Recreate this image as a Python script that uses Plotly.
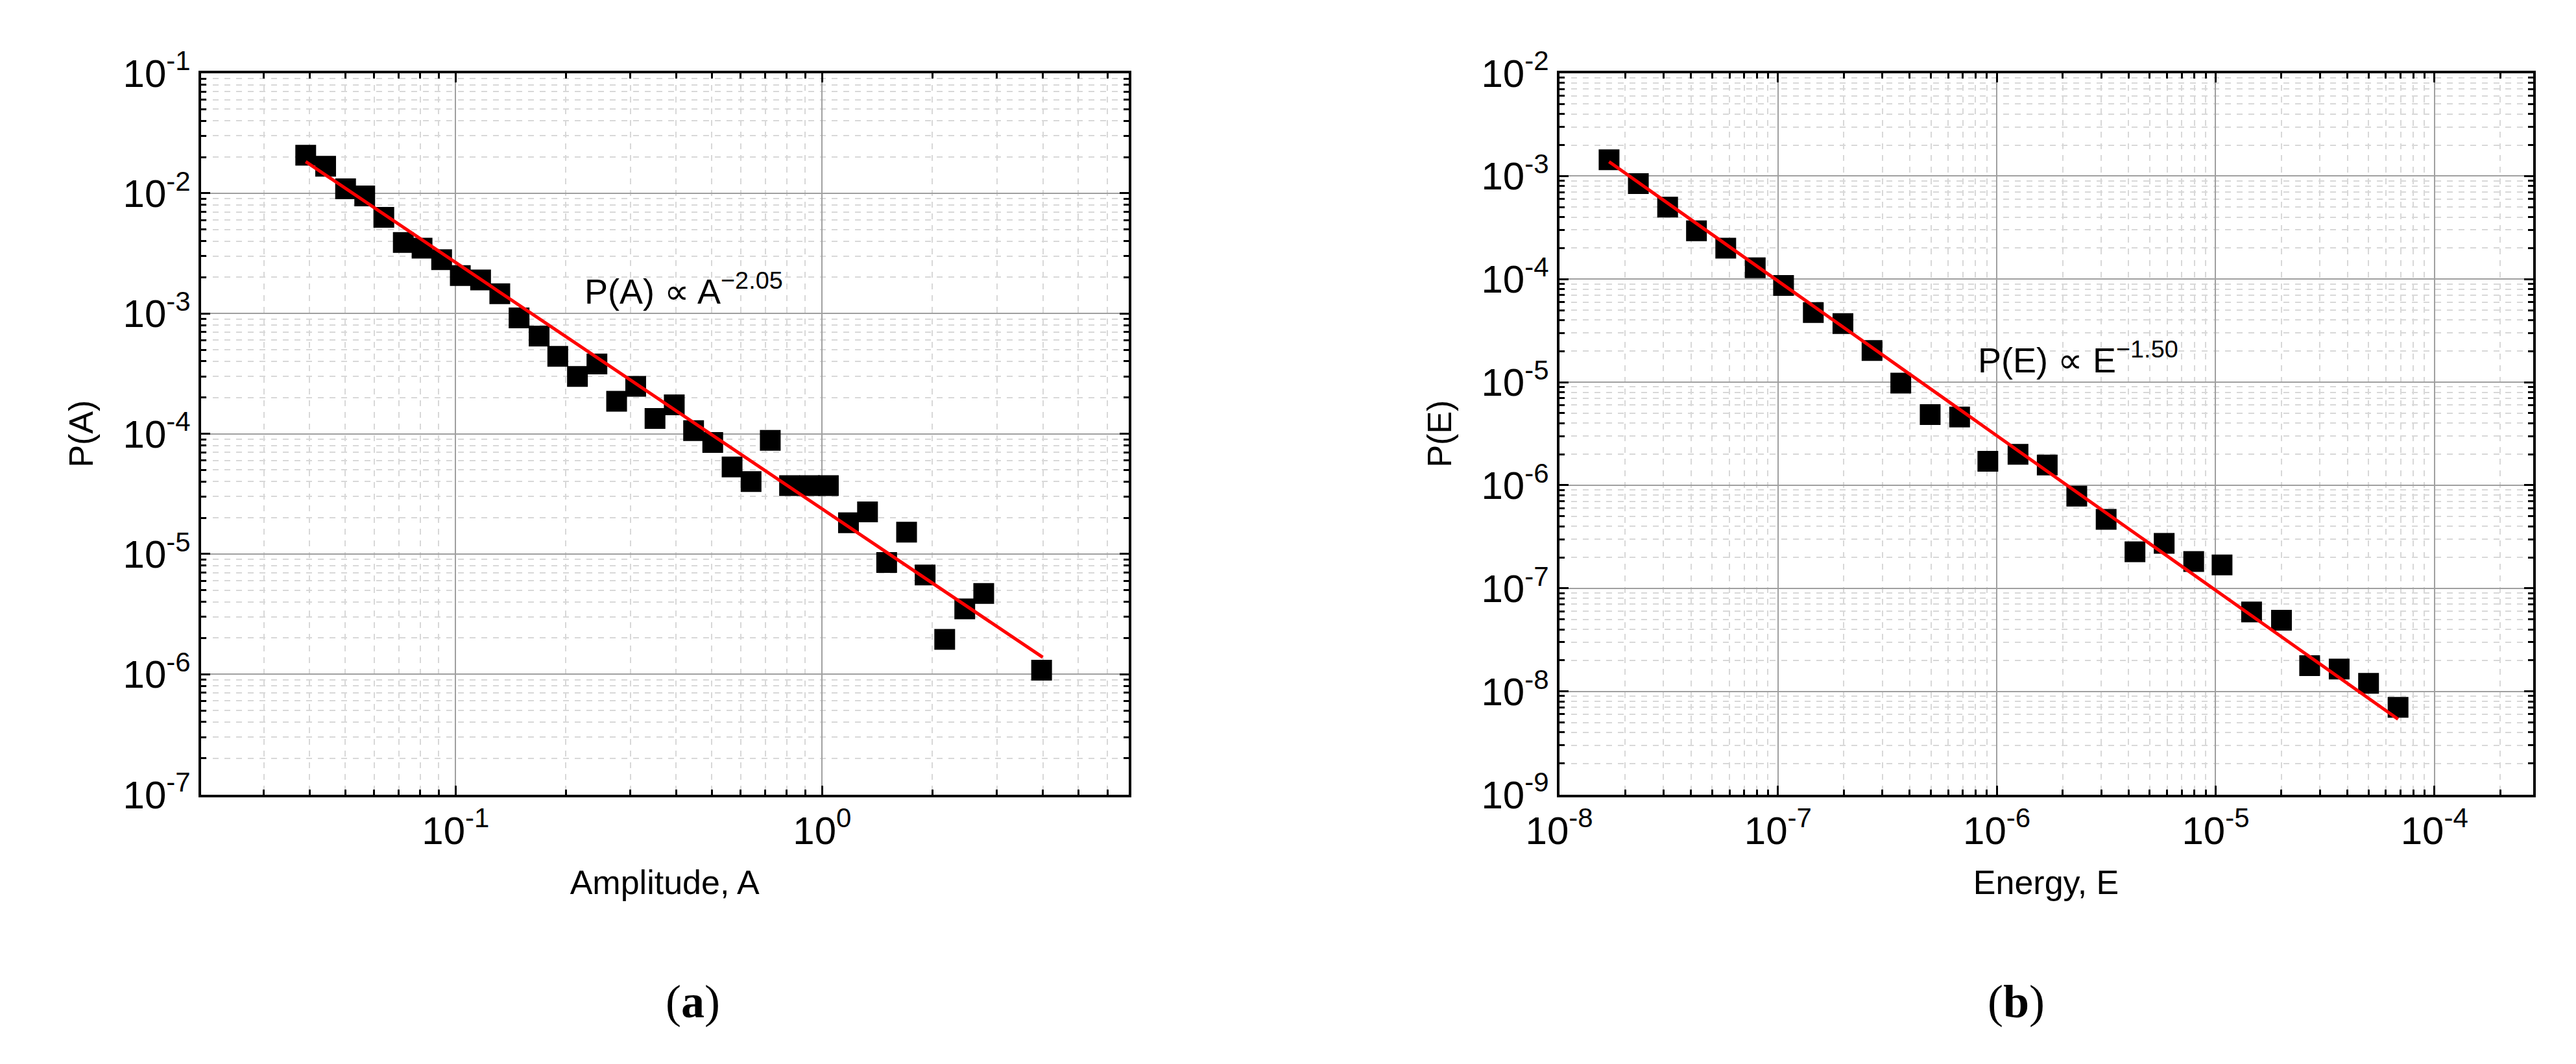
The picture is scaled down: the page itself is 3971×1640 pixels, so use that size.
import plotly.graph_objects as go
import numpy as np

amp = [0.039,0.0442,0.0501,0.0565,0.0637,0.072,0.081,0.0916,0.103,0.117,0.132,0.149,0.169,0.19,0.215,0.243,0.275,0.31,0.35,0.395,0.446,0.503,0.568,0.64,0.722,0.815,0.925,1.04,1.18,1.33,1.5,1.7,1.91,2.16,2.45,2.76,3.97]
p_amp = [0.0207,0.0168,0.0109,0.0095,0.0063,0.0039,0.0035,0.0028,0.00207,0.0019,0.00146,0.00092,0.00065,0.00044,0.0003,0.00038,0.000186,0.000248,0.000134,0.000174,0.000106,8.45e-5,5.3e-5,4.0e-5,8.8e-5,3.7e-5,3.7e-5,3.7e-5,1.82e-5,2.24e-5,8.5e-6,1.52e-5,6.7e-6,1.95e-6,3.5e-6,4.7e-6,1.08e-6]
energy = [1.69e-8,2.3e-8,3.13e-8,4.24e-8,5.77e-8,7.87e-8,1.06e-7,1.45e-7,1.98e-7,2.69e-7,3.64e-7,4.96e-7,6.76e-7,9.1e-7,1.25e-6,1.7e-6,2.32e-6,3.16e-6,4.28e-6,5.82e-6,7.94e-6,1.07e-5,1.46e-5,2.0e-5,2.69e-5,3.67e-5,5.0e-5,6.82e-5]
p_energy = [1.44e-3,8.45e-4,5.0e-4,2.94e-4,2.0e-4,1.29e-4,8.7e-5,4.75e-5,3.7e-5,2.03e-5,9.8e-6,4.85e-6,4.6e-6,1.71e-6,2.0e-6,1.57e-6,7.85e-7,4.67e-7,2.26e-7,2.73e-7,1.82e-7,1.69e-7,5.9e-8,4.9e-8,1.78e-8,1.65e-8,1.2e-8,7.0e-9]
fit_a = (2.37e-5, -2.05, 0.039, 4.0)
fit_e = (3.03e-15, -1.50, 1.69e-8, 6.82e-5)
xa_exp = [-1, 0]
ya_exp = list(range(-7, 0))
xe_exp = list(range(-8, -3))
ye_exp = list(range(-9, -1))

FONT = "Liberation Sans"
fig = go.Figure()

def add_panel(xs, ys, fit, xa, ya):
    C, k, x0, x1 = fit
    fx = np.array([x0, x1])
    fig.add_trace(go.Scatter(x=xs, y=ys, mode="markers", xaxis=xa, yaxis=ya,
                             marker=dict(symbol="square", size=32, color="black"), showlegend=False))
    fig.add_trace(go.Scatter(x=fx, y=C * fx ** k, mode="lines", xaxis=xa, yaxis=ya,
                             line=dict(color="red", width=5), showlegend=False))

add_panel(amp, p_amp, fit_a, "x", "y")
add_panel(energy, p_energy, fit_e, "x2", "y2")

def ax(dom, rng, exps, title, anchor):
    return dict(domain=dom, type="log", range=rng, tickvals=[10.0**e for e in exps],
                ticktext=["10<sup>%d</sup>" % e for e in exps],
                showline=True, linecolor="black", linewidth=4, mirror="ticks",
                ticks="inside", ticklen=14, tickwidth=3, tickcolor="black",
                showgrid=True, gridcolor="#a0a0a0", gridwidth=2, zeroline=False,
                minor=dict(dtick="D1", showgrid=True, gridcolor="#d8d8d8", griddash="dash",
                           gridwidth=1.5, ticks="inside", ticklen=8, tickcolor="black"),
                tickfont=dict(family=FONT, size=60, color="black"),
                title=dict(text=title, font=dict(family=FONT, size=52, color="black"), standoff=30),
                anchor=anchor)

fig.update_layout(
    width=3971, height=1640, margin=dict(l=0, r=0, t=0, b=0),
    plot_bgcolor="white", paper_bgcolor="white",
    xaxis=ax([0.0637, 0.4286], [-1.695, 0.836], xa_exp, "Amplitude, A", "y"),
    yaxis=ax([0.249, 0.96], [-7, -1], ya_exp, "P(A)", "x"),
    xaxis2=ax([0.598, 0.981], [-8, -3.55], xe_exp, "Energy, E", "y2"),
    yaxis2=ax([0.249, 0.96], [-9, -2], ye_exp, "P(E)", "x2"),
    annotations=[
        dict(x=np.log10(0.223), y=np.log10(1.6e-3), xref="x", yref="y", xanchor="left", yanchor="middle",
             text="P(A) ∝ A<sup>−2.05</sup>", showarrow=False, font=dict(family=FONT, size=54, color="black")),
        dict(x=np.log10(8.1e-7), y=np.log10(1.74e-5), xref="x2", yref="y2", xanchor="left", yanchor="middle",
             text="P(E) ∝ E<sup>−1.50</sup>", showarrow=False, font=dict(family=FONT, size=54, color="black")),
        dict(x=0.2461, y=0.045, xref="paper", yref="paper", showarrow=False, yanchor="middle",
             text="(<b>a</b>)", font=dict(family="Liberation Serif", size=72, color="black")),
        dict(x=0.7895, y=0.045, xref="paper", yref="paper", showarrow=False, yanchor="middle",
             text="(<b>b</b>)", font=dict(family="Liberation Serif", size=72, color="black")),
    ],
)
fig.write_html("out.html")
